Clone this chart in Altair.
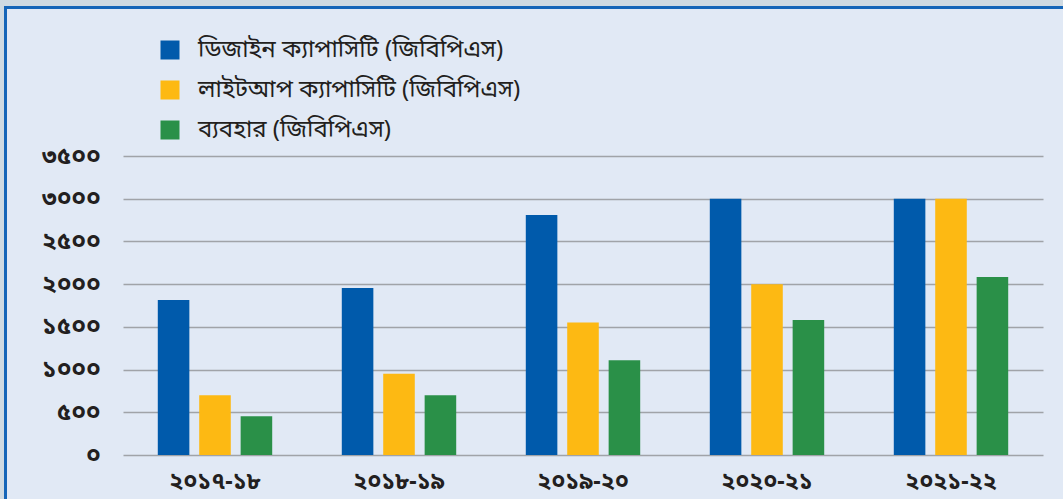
import altair as alt
import pandas as pd

years = ["২০১৭-১৮", "২০১৮-১৯", "২০১৯-২০", "২০২০-২১", "২০২১-২২"]
series = ["ডিজাইন ক্যাপাসিটি (জিবিপিএস)", "লাইটআপ ক্যাপাসিটি (জিবিপিএস)", "ব্যবহার (জিবিপিএস)"]
design = [1815, 1955, 2810, 3000, 3000]
lightup = [700, 950, 1550, 2000, 3000]
usage = [455, 700, 1110, 1580, 2085]
colors = ["#005aab", "#fdb913", "#2a9048"]
y_ticks = [0, 500, 1000, 1500, 2000, 2500, 3000, 3500]
y_labels = ["০", "৫০০", "১০০০", "১৫০০", "২০০০", "২৫০০", "৩০০০", "৩৫০০"]

rows = []
for i, y in enumerate(years):
    for s, vals in zip(series, [design, lightup, usage]):
        rows.append({"year": y, "series": s, "value": vals[i]})
df = pd.DataFrame(rows)

label_expr = "''"
for v, l in reversed(list(zip(y_ticks, y_labels))):
    label_expr = f"datum.value == {v} ? '{l}' : ({label_expr})"

FONT = "Noto Sans Bengali, Noto Sans, sans-serif"

bars = alt.Chart(df).mark_bar().encode(
    x=alt.X("year:N", sort=years, title=None,
            scale=alt.Scale(paddingInner=0, paddingOuter=0),
            axis=alt.Axis(labelAngle=0, domain=False, ticks=False, labelFontSize=23,
                          labelFont=FONT, labelColor="#231f20", labelPadding=15,
                          labelFontWeight="bold")),
    xOffset=alt.XOffset("series:N", sort=series,
                        scale=alt.Scale(paddingInner=0.238, paddingOuter=0.84)),
    y=alt.Y("value:Q", title=None,
            scale=alt.Scale(domain=[0, 3500]),
            axis=alt.Axis(values=y_ticks, labelExpr=label_expr, domain=False, ticks=False,
                          grid=True, gridColor="#a0a3a8", gridWidth=1.6,
                          labelFontSize=24, labelFont=FONT, labelColor="#231f20",
                          labelPadding=23, labelFontWeight="bold")),
    color=alt.Color("series:N", sort=series,
                    scale=alt.Scale(domain=series, range=colors),
                    legend=alt.Legend(title=None, orient="none", legendX=35, legendY=-118,
                                      symbolType="square", symbolSize=361,
                                      symbolStrokeWidth=0, labelFontSize=24,
                                      labelFont=FONT, labelColor="#231f20",
                                      labelLimit=600, rowPadding=16, labelOffset=16)),
)

# frame decoration: top strip and border lines
top_strip = alt.Chart(pd.DataFrame({"a": [0]})).mark_rect(color="#cfdae2").encode(
    x=alt.value(-123), x2=alt.value(960), y=alt.value(-156), y2=alt.value(-150))
left_strip = alt.Chart(pd.DataFrame({"a": [0]})).mark_rect(color="#cfdae2").encode(
    x=alt.value(-123), x2=alt.value(-119), y=alt.value(-156), y2=alt.value(360))
top_border = alt.Chart(pd.DataFrame({"a": [0]})).mark_rect(color="#1565b8").encode(
    x=alt.value(-119), x2=alt.value(960), y=alt.value(-150), y2=alt.value(-147))
left_border = alt.Chart(pd.DataFrame({"a": [0]})).mark_rect(color="#1565b8").encode(
    x=alt.value(-119), x2=alt.value(-116), y=alt.value(-150), y2=alt.value(360))

chart = alt.layer(bars, top_strip, left_strip, top_border, left_border).properties(
    width=920, height=299,
    background="#e1e9f5",
    padding={"left": 123, "top": 156, "right": 20, "bottom": 44},
    autosize=alt.AutoSizeParams(type="none"),
).configure_view(stroke=None)

chart.save("out.html", embed_options={"renderer": "svg", "actions": False})
